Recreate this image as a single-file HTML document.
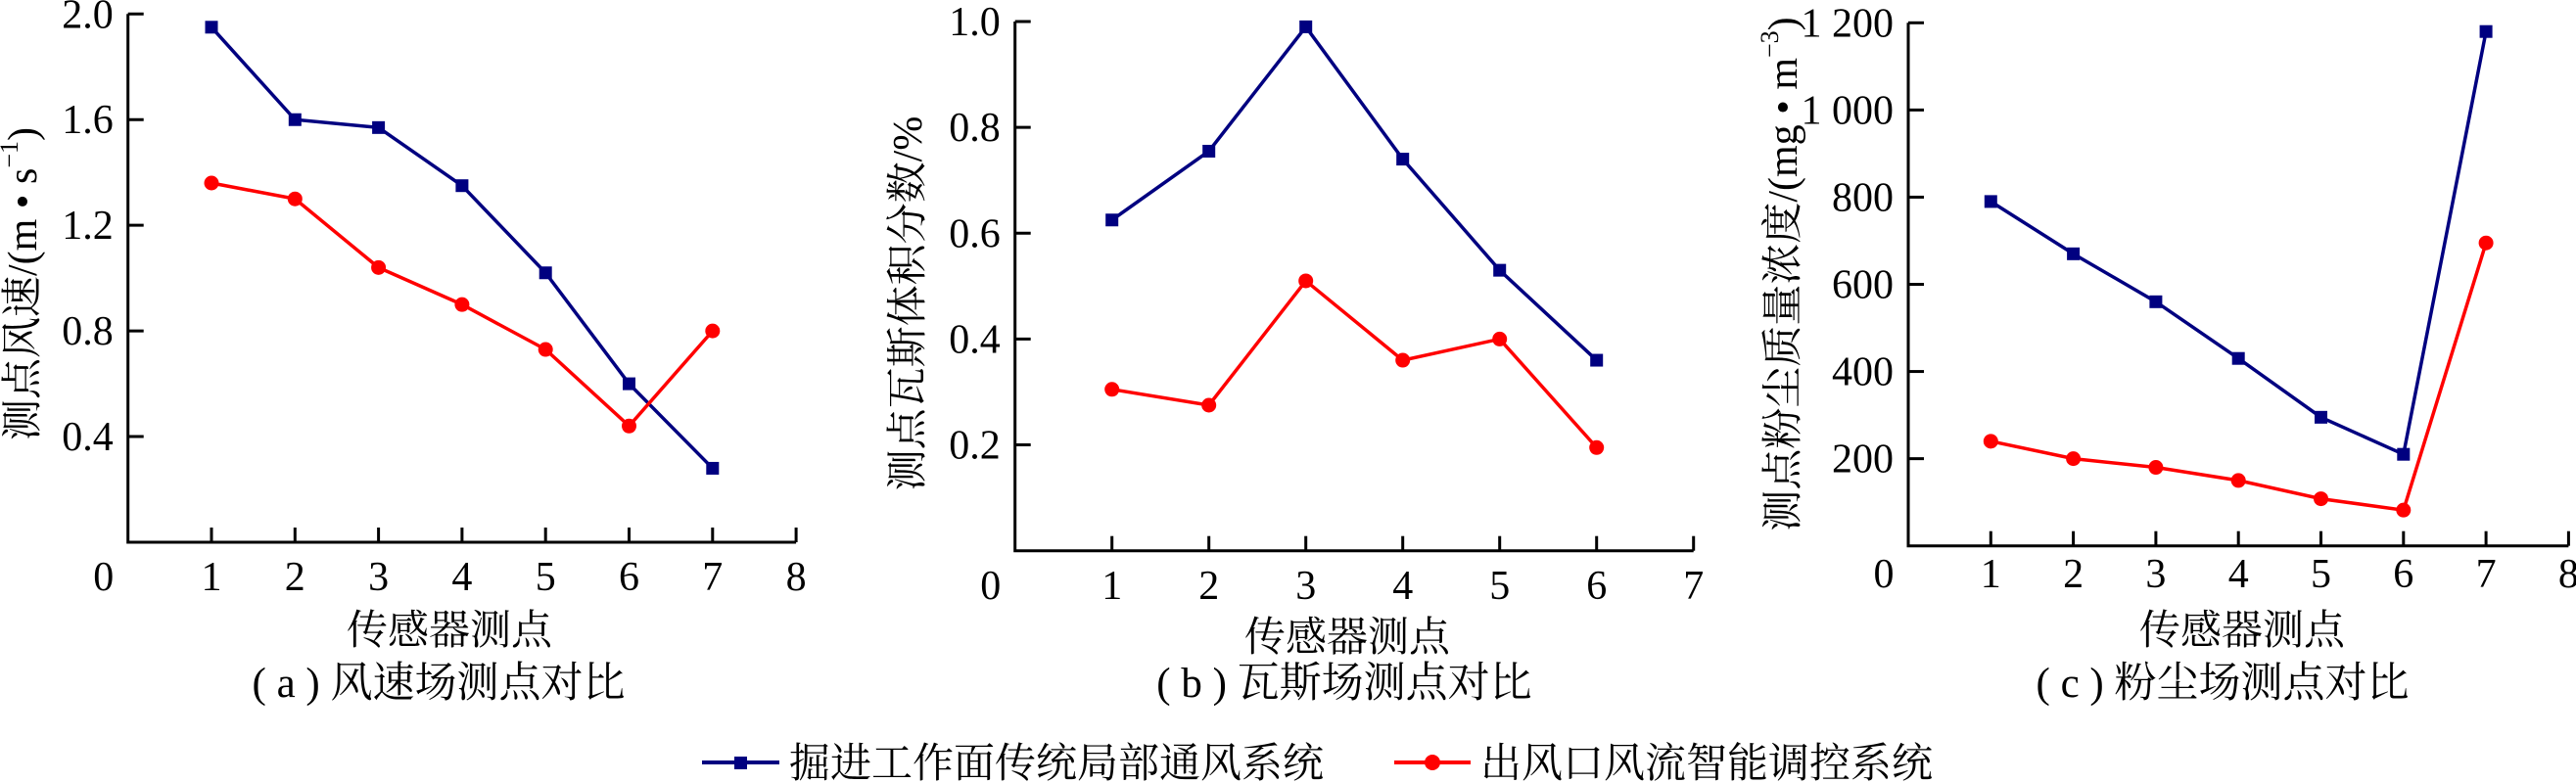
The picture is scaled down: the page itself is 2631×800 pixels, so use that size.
<!DOCTYPE html>
<html><head><meta charset="utf-8">
<style>
html,body{margin:0;padding:0;background:#fff;}
svg{display:block;}
text{font-family:"Liberation Serif","Noto Serif CJK SC","Noto Sans CJK SC",serif;fill:#000;}
</style></head>
<body>
<svg id="fig" width="2631" height="800" viewBox="0 0 2631 800" xmlns="http://www.w3.org/2000/svg">
<g id="legend">
  <g>
    <line x1="717" y1="779" x2="796" y2="779" stroke="#000080" stroke-width="4"/>
    <rect x="750" y="773" width="13" height="13" fill="#000080"/>
    <text x="806" y="794" font-size="42" font-family="Liberation Serif, Noto Serif CJK SC, serif">掘进工作面传统局部通风系统</text>
  </g>
  <g>
    <line x1="1424" y1="779" x2="1502" y2="779" stroke="#ff0000" stroke-width="4"/>
    <circle cx="1463" cy="779" r="8" fill="#ff0000"/>
    <text x="1512" y="794" font-size="42" font-family="Liberation Serif, Noto Serif CJK SC, serif">出风口风流智能调控系统</text>
  </g>
</g>
</svg>
<script>
// Panel (a) wind speed
const catsA = [1,2,3,4,5,6,7];
const blueA = [1.95,1.60,1.57,1.35,1.02,0.60,0.28];
const redA  = [1.36,1.30,1.04,0.90,0.73,0.44,0.80];
const yTicksA = [0.4,0.8,1.2,1.6,2.0];
const yLabelsA = ["0.4","0.8","1.2","1.6","2.0"];
const xTicksA = [1,2,3,4,5,6,7,8];
// Panel (b) gas
const catsB = [1,2,3,4,5,6];
const blueB = [0.625,0.755,0.99,0.74,0.53,0.36];
const redB  = [0.305,0.275,0.51,0.36,0.40,0.195];
const yTicksB = [0.2,0.4,0.6,0.8,1.0];
const yLabelsB = ["0.2","0.4","0.6","0.8","1.0"];
const xTicksB = [1,2,3,4,5,6,7];
// Panel (c) dust
const catsC = [1,2,3,4,5,6,7];
const blueC = [790,670,560,430,295,210,1180];
const redC  = [240,200,180,150,108,82,695];
const yTicksC = [200,400,600,800,1000,1200];
const yLabelsC = ["200","400","600","800","1 000","1 200"];
const xTicksC = [1,2,3,4,5,6,7,8];

const NS = "http://www.w3.org/2000/svg";
const fig = document.getElementById('fig');
const FF = 'Liberation Serif, Noto Serif CJK SC, serif';
function mk(tag, attrs, parent){
  const e = document.createElementNS(NS, tag);
  for (const k in attrs) e.setAttribute(k, attrs[k]);
  if (tag === 'text') e.setAttribute('font-family', FF);
  parent.appendChild(e);
  return e;
}

function panel(id, x0, yTop, yBot, xStep, xMax, yMax, cats, blue, red, yTicks, yLabels, xTicks, xLabY, yTitle, yTitleX, yTitleY, xTitleX, xTitleY, caption, capX){
  const g = mk('g', {}, fig);
  
  
  const sx = v => x0 + v * xStep;
  const sy = v => yBot - (v / yMax) * (yBot - yTop);
  const xEnd = sx(xMax);
  const ax = mk('path', {d:`M${x0} ${yTop} L${x0} ${yBot} L${xEnd} ${yBot}`, fill:'none', stroke:'#000', 'stroke-width':3}, g);
  
  
  yTicks.forEach((t,i) => {
    const y = sy(t);
    const tk = mk('line', {x1:x0, y1:y, x2:x0+16, y2:y, stroke:'#000', 'stroke-width':3}, g);
    
    
    const tx = mk('text', {x:x0-15, y:y+14, 'font-size':42, 'text-anchor':'end'}, g);
    
    
    tx.textContent = yLabels[i];
  });
  xTicks.forEach(t => {
    const x = sx(t);
    const tk = mk('line', {x1:x, y1:yBot, x2:x, y2:yBot-15, stroke:'#000', 'stroke-width':3}, g);
    
    
    const tx = mk('text', {x:x, y:xLabY+15, 'font-size':42, 'text-anchor':'middle'}, g);
    
    
    tx.textContent = String(t);
  });
  const o = mk('text', {x:x0-25, y:xLabY+15, 'font-size':42, 'text-anchor':'middle'}, g);
  
  
  o.textContent = '0';

  const series = [[blue,'#000080','square','traditional'],[red,'#ff0000','circle','intelligent']];
  series.forEach(([vals,col,shape,nm]) => {
    const pts = vals.map((v,i) => sx(cats[i]) + ',' + sy(v)).join(' ');
    const pl = mk('polyline', {points:pts, fill:'none', stroke:col, 'stroke-width':3.5}, g);
    
    
    vals.forEach((v,i) => {
      let m;
      if (shape === 'square') m = mk('rect', {x:sx(cats[i])-6.5, y:sy(v)-6.5, width:13, height:13, fill:col}, g);
      else m = mk('circle', {cx:sx(cats[i]), cy:sy(v), r:7.5, fill:col}, g);
      
      
    });
  });

  const yt = mk('text', {x:yTitleX, y:yTitleY, 'font-size':42, 'text-anchor':'middle', transform:`rotate(-90 ${yTitleX} ${yTitleY})`, 'dominant-baseline':'central'}, g);
  
  
  yt.innerHTML = yTitle;
  const xt = mk('text', {x:xTitleX, y:xTitleY+15, 'font-size':42, 'text-anchor':'middle'}, g);
  
  
  xt.textContent = '传感器测点';
  const cp = mk('text', {x:capX, y:712, 'font-size':43, 'text-anchor':'middle'}, g);
  
  
  cp.textContent = caption;
}

panel('a', 130.7, 14.3, 554, 85.3, 8, 2.0, catsA, blueA, redA, yTicksA, yLabelsA, xTicksA, 588,
  '测点风速/(m • s<tspan baseline-shift="super" font-size="26">−1</tspan>)', 24, 290, 459, 643, '( a ) 风速场测点对比', 448);
panel('b', 1036.7, 22, 562.7, 99, 7, 1.0, catsB, blueB, redB, yTicksB, yLabelsB, xTicksB, 597,
  '测点瓦斯体积分数/%', 928, 310, 1376, 650, '( b ) 瓦斯场测点对比', 1373);
panel('c', 1949, 23.3, 557.7, 84.3, 8, 1200, catsC, blueC, redC, yTicksC, yLabelsC, xTicksC, 585,
  '测点粉尘质量浓度/(mg • m<tspan baseline-shift="super" font-size="26">−3</tspan>)', 1822, 280, 2290, 643, '( c ) 粉尘场测点对比', 2270);
</script>
</body></html>
